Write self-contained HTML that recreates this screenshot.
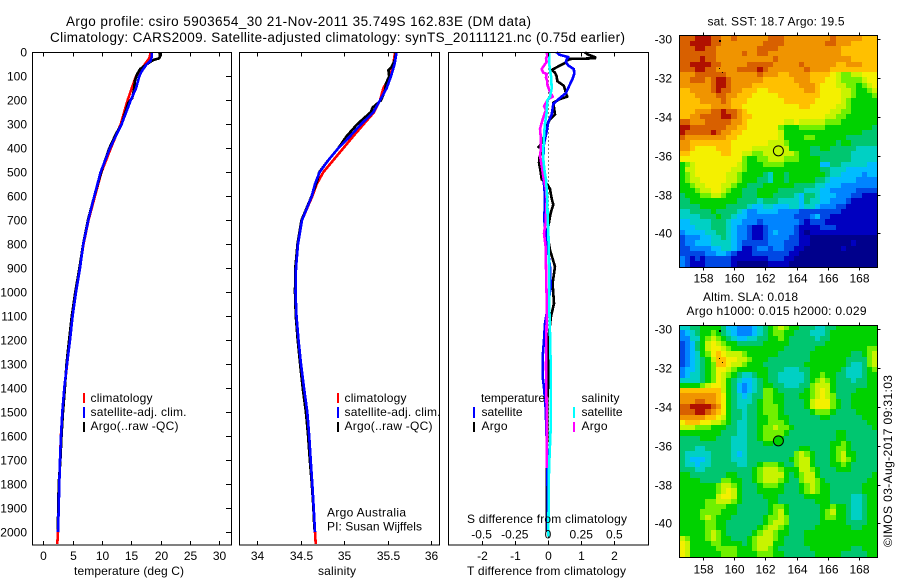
<!DOCTYPE html>
<html>
<head>
<meta charset="utf-8">
<title>Argo profile</title>
<style>
html,body{margin:0;padding:0;background:#fff;}
svg{display:block;}
text{font-family:"Liberation Sans",sans-serif;font-size:12px;fill:#000;}
</style>
</head>
<body>
<svg id="chart" xmlns="http://www.w3.org/2000/svg" width="900" height="580" viewBox="0 0 900 580">
<g id="maps"></g>
<g id="panels"></g>
<g>
<text x="66" y="26" textLength="465" style="font-size:13.5px">Argo profile: csiro 5903654_30 21-Nov-2011 35.749S 162.83E (DM data)</text>
<text x="50" y="42" textLength="575" style="font-size:13.5px">Climatology: CARS2009. Satellite-adjusted climatology: synTS_20111121.nc (0.75d earlier)</text>
<text x="74" y="575" textLength="110">temperature (deg C)</text>
<text x="318" y="575" textLength="38">salinity</text>
<text x="467" y="575" textLength="159">T difference from climatology</text>
<text x="467" y="523" textLength="160">S difference from climatology</text>
<text x="327" y="516.5" textLength="79">Argo Australia</text>
<text x="327" y="530.5" textLength="95">PI: Susan Wijffels</text>
<text x="707.5" y="25.5" textLength="137">sat. SST: 18.7 Argo: 19.5</text>
<text x="703" y="301" textLength="95">Altim. SLA: 0.018</text>
<text x="686.5" y="315" textLength="180">Argo h1000: 0.015 h2000: 0.029</text>
<text transform="translate(892,547) rotate(-90)" textLength="172">©IMOS 03-Aug-2017 09:31:03</text>
</g>
<g>
<rect x="83" y="393" width="2" height="10" fill="#f00"/>
<rect x="83" y="407" width="2" height="11" fill="#00f"/>
<rect x="83" y="422" width="2" height="10" fill="#000"/>
<text x="90.5" y="402" textLength="62">climatology</text>
<text x="90.5" y="416" textLength="96">satellite-adj. clim.</text>
<text x="90.5" y="430" textLength="88">Argo(..raw -QC)</text>
</g>
<g>
<rect x="337" y="393" width="2" height="10" fill="#f00"/>
<rect x="337" y="407" width="2" height="11" fill="#00f"/>
<rect x="337" y="422" width="2" height="10" fill="#000"/>
<text x="344.5" y="402" textLength="62">climatology</text>
<text x="344.5" y="416" textLength="96">satellite-adj. clim.</text>
<text x="344.5" y="430" textLength="88">Argo(..raw -QC)</text>
</g>
<g>
<rect x="473" y="407" width="2" height="11" fill="#00f"/>
<rect x="473" y="422" width="2" height="10" fill="#000"/>
<rect x="573" y="407" width="2" height="11" fill="#0ff"/>
<rect x="573" y="422" width="2" height="10" fill="#f0f"/>
<text x="481" y="402" textLength="64">temperature</text>
<text x="581.5" y="402" textLength="38">salinity</text>
<text x="481.5" y="416" textLength="41">satellite</text>
<text x="481.5" y="430" textLength="26">Argo</text>
<text x="581.5" y="416" textLength="41">satellite</text>
<text x="581.5" y="430" textLength="26">Argo</text>
</g>
</svg>
<script>
// ---- profile data ----
const depthTicks = [0,100,200,300,400,500,600,700,800,900,1000,1100,1200,1300,1400,1500,1600,1700,1800,1900,2000];
const tempTicks = [0,5,10,15,20,25,30];
const salTicks = [34,34.5,35,35.5,36];
const tDiffTicks = [-2,-1,0,1,2];
const sDiffTicks = [-0.5,-0.25,0,0.25,0.5];

const tempClimDepth = [0,25,50,75,100,150,200,300,400,500,600,700,800,900,1000,1100,1200,1300,1400,1500,1600,1700,1800,1900,2000,2050];
const tempClim = [18.3,18.07,17.3,16.6,15.8,15.06,14.37,13.2,11.5,9.9,8.8,7.7,6.85,6.2,5.5,4.95,4.5,4.05,3.6,3.25,3.0,2.85,2.72,2.6,2.5,2.39];
const tempSatDepth = [0,20,35,50,80,100,150,200,300,400,500,600,700,800,900,1000,1100,1200,1300,1400,1500,1600,1700,1800,1900,2000];
const tempSat = [18.47,18.47,18.3,17.6,16.76,16.36,15.8,14.9,13.35,11.36,9.77,8.7,7.67,6.82,6.26,5.57,5.0,4.55,4.04,3.58,3.24,3.02,2.85,2.73,2.62,2.5];
const tempArgoDepth = [0,15,25,32,50,70,90,120,150,190,210,300,340,400,480,600,700,800,900,1000,1100,1200,1300,1400,1500,1600,1700,1800,1900,1990];
const tempArgo = [19.77,19.9,19.77,18.75,17.6,16.5,16,15.6,15.5,15.17,14.5,13.35,12.39,11.25,10.1,8.7,7.6,6.8,6.15,5.45,4.85,4.4,3.95,3.68,3.35,3.1,2.92,2.62,2.55,2.45];

const salClimDepth = [0,50,100,150,200,250,300,350,400,450,500,550,600,700,800,900,1000,1100,1200,1300,1400,1500,1600,1700,1800,1900,2000,2050];
const salClim = [35.586,35.567,35.529,35.452,35.414,35.345,35.225,35.107,34.992,34.877,34.762,34.686,34.636,34.517,34.471,34.448,34.443,34.454,34.477,34.506,34.54,34.578,34.6,34.617,34.636,34.652,34.667,34.675];
const salSatDepth = [0,50,100,150,200,250,300,350,400,450,500,550,600,700,800,900,1000,1100,1200,1300,1400,1500,1600,1700,1800,1900,2000];
const salSat = [35.605,35.58,35.54,35.49,35.414,35.337,35.195,35.07,34.935,34.82,34.72,34.665,34.63,34.517,34.471,34.448,34.443,34.454,34.477,34.506,34.54,34.578,34.6,34.617,34.636,34.652,34.667];
const salArgoDepth = [0,30,60,75,100,130,160,200,230,250,300,350,400,450,500,530,600,700,800,900,1000,1100,1200,1300,1400,1500,1600,1700,1800,1900,1990];
const salArgo = [35.598,35.586,35.548,35.51,35.52,35.483,35.471,35.425,35.33,35.306,35.152,35.03,34.935,34.82,34.715,34.697,34.628,34.512,34.465,34.44,34.437,34.446,34.468,34.495,34.525,34.562,34.587,34.607,34.63,34.648,34.66];

const tDiffArgoDepth = [0,10,20,25,28,35,45,55,74,85,100,120,140,170,185,195,210,260,280,300,350,390,395,400,440,460,500,530,550,570,610,635,670,685,755,824,894,963,1047,1102,1172,1269,1353,1450,1600,1800,2000];
const tDiffArgo = [1.11,1.21,1.42,1.42,0.66,0.56,0.51,0.36,0.11,0.21,0.26,0.28,0.48,0.54,0.58,0.36,0.16,0.21,0.06,-0.02,-0.12,-0.24,-0.29,-0.14,-0.26,-0.27,-0.22,-0.19,-0.02,0.06,0.11,0.16,0.08,0.06,-0.02,0.06,0.21,0.14,0.18,0.09,0.03,0,0.02,-0.02,-0.03,-0.04,-0.04];
const tDiffSatDepth = [0,10,20,30,40,55,70,90,110,140,170,190,215,260,290,330,380,430,500,550,600,700,783,894,977,1047,1130,1200,1269,1353,1400,1485,1700,2000];
const tDiffSat = [0.26,0.34,0.61,0.56,0.54,0.61,0.78,0.79,0.74,0.64,0.54,0.36,0.16,0.11,0.01,-0.04,-0.12,-0.14,-0.16,-0.12,-0.09,-0.11,-0.04,0.06,0.08,0.01,-0.09,-0.12,-0.16,-0.16,-0.12,-0.07,-0.02,0];
const sDiffArgoDepth = [0,15,25,40,50,70,85,90,105,120,135,165,185,195,210,225,240,270,290,320,350,400,430,470,520,570,616,713,755,810,894,1033,1102,1200,1311,1500,1733];
const sDiffArgo = [-0.01,-0.005,-0.015,-0.01,-0.023,-0.048,-0.035,-0.01,-0.015,-0.005,-0.005,0.015,0.035,0.003,-0.015,-0.03,-0.015,-0.035,-0.045,-0.06,-0.055,-0.053,-0.06,-0.048,-0.035,-0.015,-0.01,-0.018,-0.03,-0.018,-0.015,-0.01,-0.01,-0.0125,-0.015,-0.01,-0.01];
const sDiffSatDepth = [0,50,75,100,150,185,200,250,300,350,400,450,500,530,570,616,685,755,894,1033,1172,1311,1375,1565,1665,1740,2020];
const sDiffSat = [0.01,0.01,0.015,0.023,0.028,0.015,-0.005,-0.01,-0.023,-0.03,-0.035,-0.035,-0.025,-0.015,-0.01,-0.005,-0.003,0.003,0.008,0.008,0.015,0.02,0.02,0.02,0.0125,0.0075,0.0025];

// ---- map data ----
const lonTicks = [158,160,162,164,166,168];
const latTicks = [-30,-32,-34,-36,-38,-40];
const argoLon = 162.83;
const argoLat = -35.749;
const landLons = [159.01,159.07,159.23];
const landLats = [-30.02,-31.5,-31.7];
const levelColors = ['#00008c','#0000c0','#0048e4','#0084ff','#00bcff','#00d0c4','#00c670','#00d200','#70f000','#c8f400','#f4f000','#ffc000','#f09400','#d86000','#b01000'];

const sstGrid = [
[13,13,13,14,14,14,13,13,12,12,13,12,12,12,12,12,12,13,13,13,12,12,12,12,12,12,12,12,12,13,12,12,12,12,12,11,11,11],
[13,13,14,14,14,14,13,13,12,12,12,12,12,12,12,12,13,13,13,13,12,12,12,12,12,12,12,12,13,13,12,12,12,11,11,11,11,11],
[13,13,13,14,14,13,13,12,12,12,12,12,12,12,12,13,13,13,13,12,12,12,12,12,12,12,12,12,12,12,12,11,11,11,11,11,11,11],
[13,13,13,13,13,13,13,12,12,12,12,12,13,12,12,13,13,12,12,12,12,12,12,12,12,12,12,12,12,12,12,11,11,11,11,11,11,11],
[13,13,13,13,14,13,13,12,12,12,12,12,12,12,12,12,12,12,13,12,12,12,12,12,12,12,12,12,12,12,12,12,12,11,11,11,11,11],
[13,13,14,14,14,14,13,13,12,12,12,12,12,13,13,13,13,13,12,12,12,12,12,13,12,12,12,12,12,12,11,11,12,12,12,11,11,11],
[13,13,13,14,14,13,13,12,12,12,12,13,13,13,13,14,13,12,12,12,12,12,12,12,13,12,12,12,12,11,11,11,11,11,11,11,11,11],
[12,12,12,13,13,13,13,13,13,12,12,12,12,12,12,13,12,12,12,11,11,12,12,12,12,11,11,11,11,10,9,8,8,9,9,10,10,10],
[12,12,13,13,13,12,13,14,14,13,12,12,12,12,12,12,11,11,11,11,11,11,12,12,12,11,11,11,10,10,9,8,8,8,8,9,10,10],
[12,12,12,12,12,12,13,14,14,13,12,12,12,12,11,11,11,11,11,11,11,11,11,12,12,12,11,10,10,10,9,9,8,8,7,8,9,10],
[11,11,12,12,12,12,13,14,13,13,12,12,11,11,11,10,10,11,11,11,11,11,11,11,12,12,11,10,10,10,10,9,9,8,7,7,8,9],
[11,11,11,12,12,12,12,13,13,12,12,11,11,11,10,10,10,10,10,11,11,11,11,11,11,11,11,10,10,10,10,9,9,8,7,7,7,8],
[11,11,11,11,12,12,12,12,13,12,11,11,11,10,10,10,10,10,10,10,11,11,11,11,11,11,10,10,10,10,10,9,8,7,7,7,7,7],
[11,11,11,11,11,11,12,12,12,12,11,11,10,10,10,10,10,10,10,10,10,10,10,11,11,10,10,10,10,10,9,9,8,7,7,7,7,7],
[11,11,11,12,12,12,13,13,14,13,13,12,11,10,10,10,10,10,10,10,10,10,10,10,10,10,10,10,10,9,9,8,8,7,7,7,7,7],
[11,11,12,12,13,13,13,13,14,14,13,12,11,11,10,10,10,10,10,10,10,10,10,10,10,10,10,10,9,9,8,8,7,7,7,7,7,7],
[13,13,12,12,12,13,13,13,13,13,12,12,11,10,10,10,10,10,10,10,9,9,10,9,9,9,9,9,8,8,8,7,7,7,7,7,7,7],
[14,14,13,13,13,13,13,13,13,12,12,11,11,10,10,10,10,10,10,8,7,7,7,8,8,8,8,8,7,7,7,7,7,7,7,7,7,6],
[14,13,13,13,13,13,14,13,12,12,11,11,10,10,10,10,10,10,10,9,7,7,7,7,7,7,7,7,7,7,7,7,7,7,7,6,6,6],
[13,12,12,12,12,12,12,12,12,11,11,10,10,10,10,10,10,10,10,9,7,7,7,7,8,8,7,7,7,7,7,7,6,6,6,6,6,6],
[12,12,11,11,11,11,11,11,11,11,10,10,10,10,10,10,10,9,9,9,8,7,7,7,7,7,7,7,7,7,6,7,7,6,6,6,6,6],
[12,12,11,10,10,10,10,11,11,11,10,10,10,10,9,9,9,9,9,9,9,7,7,7,7,6,6,7,7,6,6,6,6,6,5,5,5,5],
[11,11,10,10,10,10,10,10,11,11,10,10,9,9,8,8,9,9,9,9,9,9,8,7,7,6,6,6,6,6,6,6,6,5,5,5,5,5],
[10,10,10,10,10,10,10,10,10,10,10,10,8,7,7,8,8,9,9,9,8,8,8,7,7,7,7,6,6,6,6,6,6,5,5,5,5,5],
[7,8,9,10,10,10,10,10,10,10,10,9,8,7,7,7,8,8,8,8,7,7,7,7,7,7,7,4,4,6,6,5,5,5,5,5,4,4],
[7,9,9,10,10,10,10,10,10,10,9,9,8,7,7,7,7,7,7,7,7,7,7,7,7,7,7,6,6,5,5,5,4,4,4,4,4,4],
[7,8,9,10,10,10,10,10,10,9,9,8,7,7,7,7,6,5,7,7,6,7,7,7,7,7,7,7,6,5,5,4,4,4,4,3,4,4],
[7,8,9,9,10,10,10,10,10,9,9,8,7,7,7,6,6,5,7,7,6,7,7,7,7,7,6,6,5,4,4,4,4,4,3,3,3,3],
[7,7,8,9,9,10,10,10,9,9,8,7,7,6,6,6,7,7,7,7,7,7,6,6,6,6,5,5,4,4,4,3,3,3,3,3,3,3],
[7,7,7,8,9,9,10,10,9,8,7,7,6,6,6,7,7,7,7,6,6,6,6,6,5,5,5,4,4,3,3,3,3,3,2,2,2,2],
[6,7,7,7,8,8,9,9,8,7,7,7,6,6,6,7,7,7,6,6,6,6,5,4,6,6,5,4,4,4,3,3,3,2,2,1,1,1],
[6,6,7,7,7,7,7,7,7,7,7,6,6,6,6,5,6,6,6,5,5,5,5,4,6,5,5,4,4,3,3,3,2,1,1,1,1,1],
[6,6,6,6,7,7,7,7,7,6,6,6,6,5,4,4,5,5,4,4,4,5,5,4,5,5,4,3,3,3,2,2,1,1,1,1,1,1],
[5,5,6,6,6,6,7,6,6,6,6,5,4,3,3,4,4,4,4,3,3,3,3,2,2,2,2,2,2,2,2,1,1,1,1,1,1,1],
[5,5,5,5,6,6,6,7,6,6,5,4,4,3,3,3,3,3,3,3,3,3,2,2,2,3,4,2,2,1,1,1,1,1,1,1,1,1],
[4,4,5,5,5,5,6,6,6,5,4,4,3,3,3,2,3,3,3,3,3,3,3,2,1,2,2,2,1,1,1,1,1,1,1,1,1,1],
[4,4,4,5,5,5,6,6,6,5,4,3,3,2,1,1,2,3,3,3,3,3,2,1,1,1,1,2,2,2,1,1,1,1,1,1,1,1],
[3,4,4,4,4,5,5,6,6,5,4,3,3,2,1,1,2,3,4,3,3,3,2,1,0,1,1,1,1,1,1,1,1,1,1,1,1,1],
[2,3,3,3,4,4,5,5,6,5,4,3,3,2,1,1,2,3,3,3,3,2,2,1,1,0,0,0,0,0,0,0,0,0,0,0,0,0],
[2,3,3,4,4,4,5,5,5,5,4,3,2,2,2,2,2,3,3,3,2,2,2,1,1,0,0,0,0,0,0,0,0,1,0,0,0,0],
[2,2,3,3,3,3,4,4,5,5,4,3,1,1,2,3,3,2,3,3,2,2,1,1,0,0,0,0,0,0,0,1,0,0,0,0,0,0],
[2,2,2,2,2,3,3,4,4,3,2,1,1,1,2,2,2,2,2,2,2,1,1,0,0,0,0,0,0,0,0,0,0,0,0,0,0,0],
[3,2,1,2,1,2,2,2,2,2,1,1,1,1,1,1,1,2,2,2,1,1,0,0,0,0,0,0,0,0,0,0,0,0,0,0,0,0],
[3,2,1,1,1,2,2,2,2,2,1,0,0,0,0,0,0,1,1,1,1,0,0,0,0,0,0,0,0,0,0,0,0,0,0,0,0,0]
];

const slaGrid = [
[5,5,6,6,7,7,7,7,6,4,4,3,3,3,4,5,6,7,8,9,8,7,7,6,6,6,5,5,6,6,7,7,7,7,7,7,7,7],
[3,4,5,6,7,7,8,7,6,5,4,3,3,3,4,5,6,7,8,8,7,7,6,6,6,5,5,5,6,7,7,7,7,7,7,7,7,7],
[3,3,5,5,7,8,9,8,7,6,5,4,4,5,5,6,6,7,7,8,7,6,6,6,6,6,5,6,6,7,7,7,7,7,7,7,7,7],
[2,3,4,6,7,9,10,9,8,7,7,6,6,6,6,6,7,7,7,7,7,6,6,6,6,6,6,6,7,7,7,7,7,7,7,7,7,7],
[2,3,4,6,7,9,10,10,9,8,7,7,7,7,7,7,7,7,7,7,6,6,6,6,6,6,7,7,7,7,7,7,7,7,7,7,8,8],
[2,3,4,5,7,8,10,11,10,9,9,9,8,7,7,7,7,7,7,6,6,6,6,6,6,7,7,7,7,7,7,7,7,6,6,7,8,9],
[2,3,4,5,6,7,9,11,11,10,10,9,9,8,7,7,7,6,6,6,6,6,6,6,6,7,7,7,7,7,7,7,6,6,6,6,8,9],
[2,3,4,5,6,7,8,11,11,10,9,9,8,7,7,7,6,6,6,6,6,6,6,6,7,7,7,7,7,7,7,7,6,5,5,6,8,9],
[3,4,4,5,6,7,8,10,10,9,8,7,7,7,7,7,7,6,6,6,5,5,5,6,6,7,7,7,7,7,7,6,5,5,5,6,7,8],
[3,4,5,5,6,7,8,10,9,8,7,6,5,5,6,7,7,6,6,5,5,5,5,5,6,7,7,8,7,7,6,6,5,5,5,6,7,7],
[5,5,5,5,6,7,8,10,9,7,6,5,4,4,5,6,7,6,6,5,5,5,5,5,6,7,8,9,8,7,6,6,6,5,6,6,7,7],
[7,7,7,7,8,9,10,10,9,7,6,4,3,4,5,6,7,7,6,6,5,5,5,6,6,8,9,9,9,7,6,6,6,6,6,6,7,7],
[11,11,11,11,11,11,11,11,9,7,6,4,3,4,5,6,8,8,7,6,6,6,6,6,7,8,9,10,9,7,6,6,6,6,7,7,7,7],
[12,12,12,12,12,12,12,11,10,7,6,5,4,5,6,6,8,8,7,7,6,6,6,7,7,8,9,10,9,8,6,6,6,7,7,7,7,7],
[12,12,12,13,13,12,12,11,10,7,6,5,5,5,6,7,8,8,7,7,6,6,6,6,7,9,10,10,10,8,7,6,6,7,7,7,7,7],
[13,13,14,14,14,14,13,12,10,7,6,5,5,6,6,7,8,8,8,7,6,6,6,6,7,9,10,10,10,8,7,6,6,7,7,7,7,7],
[13,13,13,14,14,13,12,11,10,7,6,6,5,6,6,7,8,8,8,7,6,6,6,6,6,7,8,8,8,7,6,6,6,6,7,7,7,7],
[12,12,12,12,12,11,11,10,9,7,6,6,5,6,6,7,7,8,8,7,7,6,6,6,6,6,6,7,7,6,6,6,6,6,6,7,7,7],
[10,11,11,11,10,10,9,9,8,7,6,5,5,6,6,7,7,8,8,8,7,6,6,6,6,6,6,6,6,6,6,6,6,6,6,6,7,7],
[9,9,9,8,8,8,7,7,7,6,6,5,5,6,6,7,8,8,9,8,8,7,6,6,6,6,6,6,6,6,6,6,6,6,6,6,6,7],
[7,7,7,7,7,7,7,7,6,6,6,5,5,6,6,7,8,8,8,8,7,6,6,6,6,6,6,6,6,6,7,7,6,6,6,6,6,6],
[6,6,6,6,7,7,7,6,6,6,5,5,5,6,6,7,8,8,8,7,6,6,6,6,6,6,6,6,6,6,7,7,6,6,6,6,6,6],
[6,6,6,6,6,6,6,6,6,6,5,5,5,6,6,6,7,7,6,6,6,6,6,6,6,6,6,6,6,7,7,8,7,6,6,6,6,6],
[6,6,6,5,5,6,6,6,6,6,5,5,5,6,6,6,6,6,6,6,6,6,6,7,7,6,6,6,6,7,8,8,7,6,6,6,6,6],
[6,5,5,5,5,5,6,6,6,6,5,4,5,6,6,6,6,6,6,6,6,6,8,9,8,7,6,6,6,7,8,9,7,7,6,6,6,6],
[6,5,4,4,4,5,6,6,6,6,5,5,5,6,6,6,6,6,6,6,6,7,8,9,9,7,6,6,6,7,8,9,8,7,6,6,6,6],
[6,5,5,4,5,5,6,6,6,6,6,5,5,6,6,7,8,8,8,7,6,6,8,9,9,7,6,6,6,7,7,8,7,6,6,6,6,6],
[6,6,6,5,5,6,6,6,6,6,6,6,6,6,7,8,9,9,9,8,7,7,7,9,9,8,7,6,6,6,7,7,7,6,6,6,6,6],
[7,7,6,6,6,6,6,6,6,7,7,6,6,6,7,8,9,9,9,9,7,6,7,8,9,9,7,6,6,6,6,6,6,6,6,6,6,7],
[7,7,7,7,6,6,6,6,8,8,7,7,6,6,7,8,9,9,9,8,7,6,6,8,9,9,8,7,6,6,6,6,6,6,6,6,7,7],
[7,7,7,7,7,7,7,8,9,9,8,7,6,6,6,7,8,8,8,7,6,6,6,7,8,9,8,7,7,6,6,6,6,6,6,7,7,7],
[7,7,7,7,7,7,7,8,9,10,9,7,6,6,6,7,7,7,7,7,6,6,6,7,8,9,8,7,7,6,6,6,6,6,6,7,7,7],
[7,7,7,7,7,7,7,9,10,10,9,7,6,6,6,6,7,7,7,6,6,6,6,6,7,7,7,7,7,6,6,6,6,5,5,6,7,7],
[7,7,7,7,7,8,8,9,9,9,8,7,6,6,6,6,6,7,7,6,6,6,6,6,6,6,7,7,7,6,6,6,6,5,5,6,7,7],
[7,7,7,7,7,8,8,8,8,7,7,6,6,6,6,6,6,7,8,8,7,6,6,6,6,6,6,7,7,8,7,7,6,5,5,6,7,7],
[7,7,7,7,8,8,8,8,7,7,7,6,6,6,6,6,6,7,8,9,7,6,6,6,6,6,6,7,8,9,7,7,6,5,5,6,7,7],
[7,7,7,7,8,9,8,7,7,7,6,6,6,6,6,6,7,8,8,9,8,6,6,6,6,6,6,7,8,8,7,7,6,5,5,6,7,7],
[7,7,7,7,7,8,8,7,7,6,6,6,6,6,6,6,7,8,9,9,8,6,6,6,6,6,6,7,7,7,7,7,6,6,6,6,7,7],
[7,7,7,7,7,8,8,7,7,6,6,6,6,6,6,7,8,9,9,8,7,6,6,6,6,6,7,7,7,7,7,7,7,6,6,7,7,7],
[7,7,7,7,7,8,9,8,7,6,6,6,6,6,7,8,9,9,8,7,7,6,6,6,7,7,7,7,7,7,7,7,7,7,7,7,7,7],
[9,8,7,7,7,8,9,8,7,7,6,6,6,7,8,9,9,9,8,7,6,6,6,6,7,7,7,7,7,7,7,7,7,7,7,7,7,7],
[10,9,7,7,7,7,8,8,7,7,7,7,6,7,8,9,9,9,7,7,6,6,6,6,7,7,7,7,7,7,7,7,7,7,7,7,7,7],
[10,9,7,7,7,7,7,8,8,8,8,7,7,7,8,9,9,8,7,6,6,6,6,6,6,7,7,7,7,7,7,7,7,6,6,7,7,7],
[10,9,7,7,7,7,7,7,8,8,8,7,7,7,7,8,8,8,7,7,6,6,6,6,6,6,7,7,7,7,7,6,6,6,6,6,7,7]
];

// ---- rendering ----
const NS = 'http://www.w3.org/2000/svg';
const panelsG = document.getElementById('panels');
const mapsG = document.getElementById('maps');
const PTOP = 52.5, PBOT = 545;

function depthY(d){ return 52.3 + d * 0.2398; }
function tempX(t){ return 43.3 + t * 5.867; }
function salX(s){ return 257 + (s - 34) * 87; }
function tDiffX(t){ return 548 + t * 33.2; }
function sDiffX(s){ return 548 + s * 132.8; }

function make(tag, attrs, parent){
  const el = document.createElementNS(NS, tag);
  for (const k in attrs) el.setAttribute(k, attrs[k]);
  parent.appendChild(el);
  return el;
}

function drawFrame(parent, x0, y0, x1, y1){
  const frame = make('rect', {x:x0, y:y0, width:x1-x0, height:y1-y0, fill:'none', stroke:'#000', 'stroke-width':1, 'shape-rendering':'crispEdges'}, parent);
  
  
}

function tickLine(parent, x1, y1, x2, y2){
  const t = make('line', {x1:x1, y1:y1, x2:x2, y2:y2, stroke:'#000', 'stroke-width':1, 'shape-rendering':'crispEdges'}, parent);
  
  
}

function tickLabel(parent, x, y, str, anchor){
  const t = make('text', {x:x, y:y, 'text-anchor':anchor}, parent);
  t.textContent = str;
  
  
}

function drawSeries(parent, depths, values, xFn, color, name){
  const pts = depths.map(function(d, i){ return xFn(values[i]).toFixed(1) + ',' + depthY(d).toFixed(1); }).join(' ');
  const line = make('polyline', {points:pts, fill:'none', stroke:color, 'stroke-width':2.6, 'stroke-linejoin':'round', 'shape-rendering':'crispEdges'}, parent);
  
  
}

function xTicks(parent, ticks, xFn, labelY){
  ticks.forEach(function(v){
    const x = Math.round(xFn(v)) + 0.5;
    tickLine(parent, x, PTOP, x, PTOP + 4);
    tickLine(parent, x, PBOT, x, PBOT - 4);
    tickLabel(parent, x, labelY, String(v), 'middle');
  });
}

// temperature panel
const g1 = make('g', {}, panelsG);


drawSeries(g1, tempClimDepth, tempClim, tempX, '#f00', 'temperature-climatology-line');
drawSeries(g1, tempArgoDepth, tempArgo, tempX, '#000', 'temperature-argo-line');
drawSeries(g1, tempSatDepth, tempSat, tempX, '#00f', 'temperature-satellite-line');
drawFrame(g1, 32.5, PTOP, 231.5, PBOT);
xTicks(g1, tempTicks, tempX, 560);
depthTicks.forEach(function(d){
  const y = Math.round(depthY(d)) + 0.5;
  tickLine(g1, 226, y, 231.5, y);
  tickLabel(g1, 27, y + 4, String(d), 'end');
});

// salinity panel
const g2 = make('g', {}, panelsG);


drawSeries(g2, salClimDepth, salClim, salX, '#f00', 'salinity-climatology-line');
drawSeries(g2, salArgoDepth, salArgo, salX, '#000', 'salinity-argo-line');
drawSeries(g2, salSatDepth, salSat, salX, '#00f', 'salinity-satellite-line');
drawFrame(g2, 239.5, PTOP, 439.5, PBOT);
xTicks(g2, salTicks, salX, 560);

// difference panel
const g3 = make('g', {}, panelsG);


const zeroLine = make('line', {x1:548.5, y1:PTOP, x2:548.5, y2:PBOT, stroke:'#000', 'stroke-width':1, 'stroke-dasharray':'1 3', 'shape-rendering':'crispEdges'}, g3);


drawSeries(g3, tDiffArgoDepth, tDiffArgo, tDiffX, '#000', 't-difference-argo-line');
drawSeries(g3, tDiffSatDepth, tDiffSat, tDiffX, '#00f', 't-difference-satellite-line');
drawSeries(g3, sDiffArgoDepth, sDiffArgo, sDiffX, '#f0f', 's-difference-argo-line');
drawSeries(g3, sDiffSatDepth, sDiffSat, sDiffX, '#0ff', 's-difference-satellite-line');
drawFrame(g3, 448.5, PTOP, 648.5, PBOT);
xTicks(g3, tDiffTicks, tDiffX, 560);
sDiffTicks.forEach(function(v){
  tickLabel(g3, sDiffX(v), 538.5, String(v), 'middle');
});

// maps
function drawMap(name, grid, top, bottom, tick30Y, labelY, circleFill){
  const g = make('g', {}, mapsG);
  
  
  const left = 679.3, right = 877.3;
  const lonX = function(lon){ return 702.7 + (lon - 158) * 15.67; };
  const latY = function(lat){ return tick30Y + (-30 - lat) * 19.4; };
  const cw = (right - left) / grid[0].length;
  const ch = (bottom - top) / grid.length;
  grid.forEach(function(row, j){
    row.forEach(function(v, i){
      const cell = make('rect', {
        x: Math.round(left + i * cw),
        y: Math.round(top + j * ch),
        width: Math.round(left + (i + 1) * cw) - Math.round(left + i * cw),
        height: Math.round(top + (j + 1) * ch) - Math.round(top + j * ch),
        fill: levelColors[v],
        'shape-rendering': 'crispEdges'
      }, g);
      
      
    });
  });
  landLons.forEach(function(lon, i){
    const speck = make('rect', {x:Math.round(lonX(lon)), y:Math.round(latY(landLats[i])), width:i === 0 ? 2 : 1, height:i === 0 ? 2 : 1, fill:'#000', 'shape-rendering':'crispEdges'}, g);
    
    
  });
  const marker = make('circle', {cx:lonX(argoLon), cy:latY(argoLat), r:5, fill:circleFill, stroke:'#000', 'stroke-width':1}, g);
  
  
  drawFrame(g, 679.5, Math.round(top) + 0.5, 877.5, Math.round(bottom) + 0.5);
  lonTicks.forEach(function(lon){
    const x = Math.round(lonX(lon)) + 0.5;
    tickLine(g, x, Math.round(top) + 0.5, x, Math.round(top) - 2.5);
    tickLine(g, x, Math.round(bottom) + 0.5, x, Math.round(bottom) + 3.5);
    tickLabel(g, x, labelY, String(lon), 'middle');
  });
  latTicks.forEach(function(lat){
    const y = Math.round(latY(lat)) + 0.5;
    tickLine(g, 877.5, y, 880.5, y);
    tickLabel(g, 672, y + 4, String(lat), 'end');
  });
}
drawMap('sst-map', sstGrid, 35.3, 266.7, 39.3, 282.7, '#c8f400');
drawMap('sla-map', slaGrid, 325, 556.7, 329.3, 573.3, '#00d200');
</script>
</body>
</html>
